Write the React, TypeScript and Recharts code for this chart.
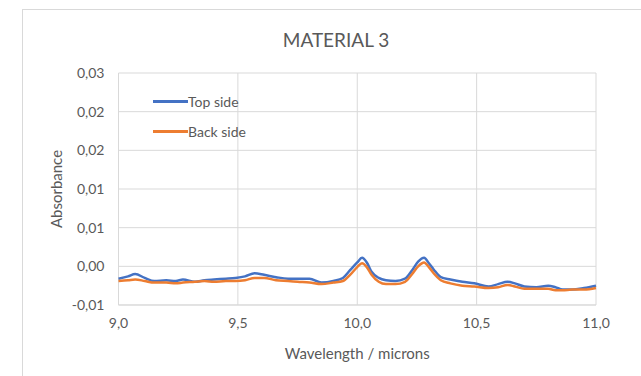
import { LineChart, Line, XAxis, YAxis, CartesianGrid } from "recharts";

const wavelength = [
  9.0, 9.04, 9.07, 9.11, 9.15, 9.2, 9.24, 9.27, 9.32, 9.36, 9.4, 9.45, 9.49,
  9.53, 9.57, 9.61, 9.66, 9.71, 9.75, 9.8, 9.85, 9.9, 9.94, 9.97, 10.0, 10.02,
  10.04, 10.06, 10.09, 10.12, 10.16, 10.2, 10.23, 10.255, 10.28, 10.3, 10.32,
  10.35, 10.39, 10.44, 10.49, 10.55, 10.59, 10.63, 10.66, 10.7, 10.75, 10.8,
  10.83, 10.86, 10.9, 10.95, 11.0,
];

const topSide = [
  -0.0016, -0.0013, -0.001, -0.0015, -0.0019, -0.0018, -0.0019, -0.0017,
  -0.002, -0.0018, -0.0017, -0.0016, -0.0015, -0.0013, -0.0009, -0.0011,
  -0.0014, -0.0016, -0.0016, -0.0016, -0.0021, -0.0019, -0.0015, -0.0005,
  0.0005, 0.0011, 0.0005, -0.0007, -0.0015, -0.0018, -0.0019, -0.0016,
  -0.0005, 0.0006, 0.0011, 0.0004, -0.0004, -0.0014, -0.0017, -0.002, -0.0022,
  -0.0026, -0.0023, -0.002, -0.0022, -0.0026, -0.0027, -0.0025, -0.0027,
  -0.003, -0.003, -0.0028, -0.0025,
];

const backSide = [
  -0.0019, -0.0018, -0.0017, -0.0019, -0.0021, -0.0021, -0.0022, -0.0021,
  -0.002, -0.0019, -0.002, -0.0019, -0.0019, -0.0018, -0.0015, -0.0015,
  -0.0018, -0.0019, -0.002, -0.0021, -0.0023, -0.0021, -0.0019, -0.0011,
  -0.0001, 0.0004, -0.0001, -0.0011, -0.002, -0.0023, -0.0023, -0.002, -0.001,
  0.0, 0.0005, -0.0001, -0.0009, -0.0018, -0.0022, -0.0025, -0.0026, -0.0028,
  -0.0027, -0.0024, -0.0026, -0.0029, -0.0029, -0.0029, -0.0031, -0.0031,
  -0.003, -0.003, -0.0028,
];

const seriesNames = ["Top side", "Back side"];
const xTicks = [9.0, 9.5, 10.0, 10.5, 11.0];
const xTickLabels = ["9,0", "9,5", "10,0", "10,5", "11,0"];
const yTicks = [-0.005, 0, 0.005, 0.01, 0.015, 0.02, 0.025];
const yTickLabels = ["-0,01", "0,00", "0,01", "0,01", "0,02", "0,02", "0,03"];

const FONT = "Lato, 'Open Sans', sans-serif";
const TEXT = "#595959";
const GRID = "#d9d9d9";
const BLUE = "#4472C4";
const ORANGE = "#ED7D31";

const data = wavelength.map((w, i) => ({
  w,
  top: topSide[i],
  back: backSide[i],
}));

const legendItems = [
  { name: seriesNames[0], color: BLUE },
  { name: seriesNames[1], color: ORANGE },
];

export default function App() {
  return (
    <div
      style={{
        position: "fixed",
        left: 0,
        top: 0,
        width: 641,
        height: 376,
        overflow: "hidden",
        background: "#fff",
      }}
    >
      <div
        style={{
          position: "absolute",
          left: 22,
          top: 9,
          width: 700,
          height: 420,
          border: `1px solid ${GRID}`,
        }}
      />
      <div
        style={{
          position: "absolute",
          left: 0,
          width: 672,
          top: 28,
          textAlign: "center",
          fontFamily: FONT,
          fontSize: 19,
          color: TEXT,
        }}
      >
        MATERIAL 3
      </div>
      <LineChart
        width={641}
        height={376}
        data={data}
        margin={{ top: 73, right: 45, bottom: 0, left: 0 }}
        style={{ position: "absolute", left: 0, top: 0 }}
      >
        <CartesianGrid stroke={GRID} strokeWidth={1} />
        <XAxis
          dataKey="w"
          type="number"
          domain={[9, 11]}
          ticks={xTicks}
          tickFormatter={(v: number) => xTickLabels[xTicks.indexOf(v)]}
          height={71}
          tickLine={false}
          tickSize={0}
          tickMargin={13}
          axisLine={{ stroke: GRID }}
          tick={{ fill: TEXT, fontSize: 14, fontFamily: FONT }}
          label={{
            value: "Wavelength / microns",
            position: "insideBottom",
            offset: 17,
            style: { fill: TEXT, fontSize: 15, fontFamily: FONT },
          }}
        />
        <YAxis
          type="number"
          domain={[-0.005, 0.025]}
          ticks={yTicks}
          tickFormatter={(v: number) => yTickLabels[yTicks.indexOf(v)]}
          width={118.5}
          tickLine={false}
          tickSize={0}
          tickMargin={14}
          axisLine={false}
          tick={{ fill: TEXT, fontSize: 14, fontFamily: FONT }}
          label={{
            value: "Absorbance",
            angle: -90,
            position: "insideLeft",
            offset: 57,
            style: {
              fill: TEXT,
              fontSize: 15,
              fontFamily: FONT,
              textAnchor: "middle",
            },
          }}
        />
        <Line
          type="monotone"
          dataKey="top"
          name={seriesNames[0]}
          stroke={BLUE}
          strokeWidth={2.5}
          dot={false}
          isAnimationActive={false}
        />
        <Line
          type="monotone"
          dataKey="back"
          name={seriesNames[1]}
          stroke={ORANGE}
          strokeWidth={2.5}
          dot={false}
          isAnimationActive={false}
        />
      </LineChart>
      <div
        style={{
          position: "absolute",
          left: 153,
          top: 86,
          fontFamily: FONT,
          fontSize: 14,
          color: TEXT,
        }}
      >
        {legendItems.map((p) => (
          <div
            key={p.name}
            style={{ display: "flex", alignItems: "center", height: 30 }}
          >
            <span
              style={{
                display: "inline-block",
                width: 35,
                height: 3,
                background: p.color,
              }}
            />
            <span>{p.name}</span>
          </div>
        ))}
      </div>
    </div>
  );
}
